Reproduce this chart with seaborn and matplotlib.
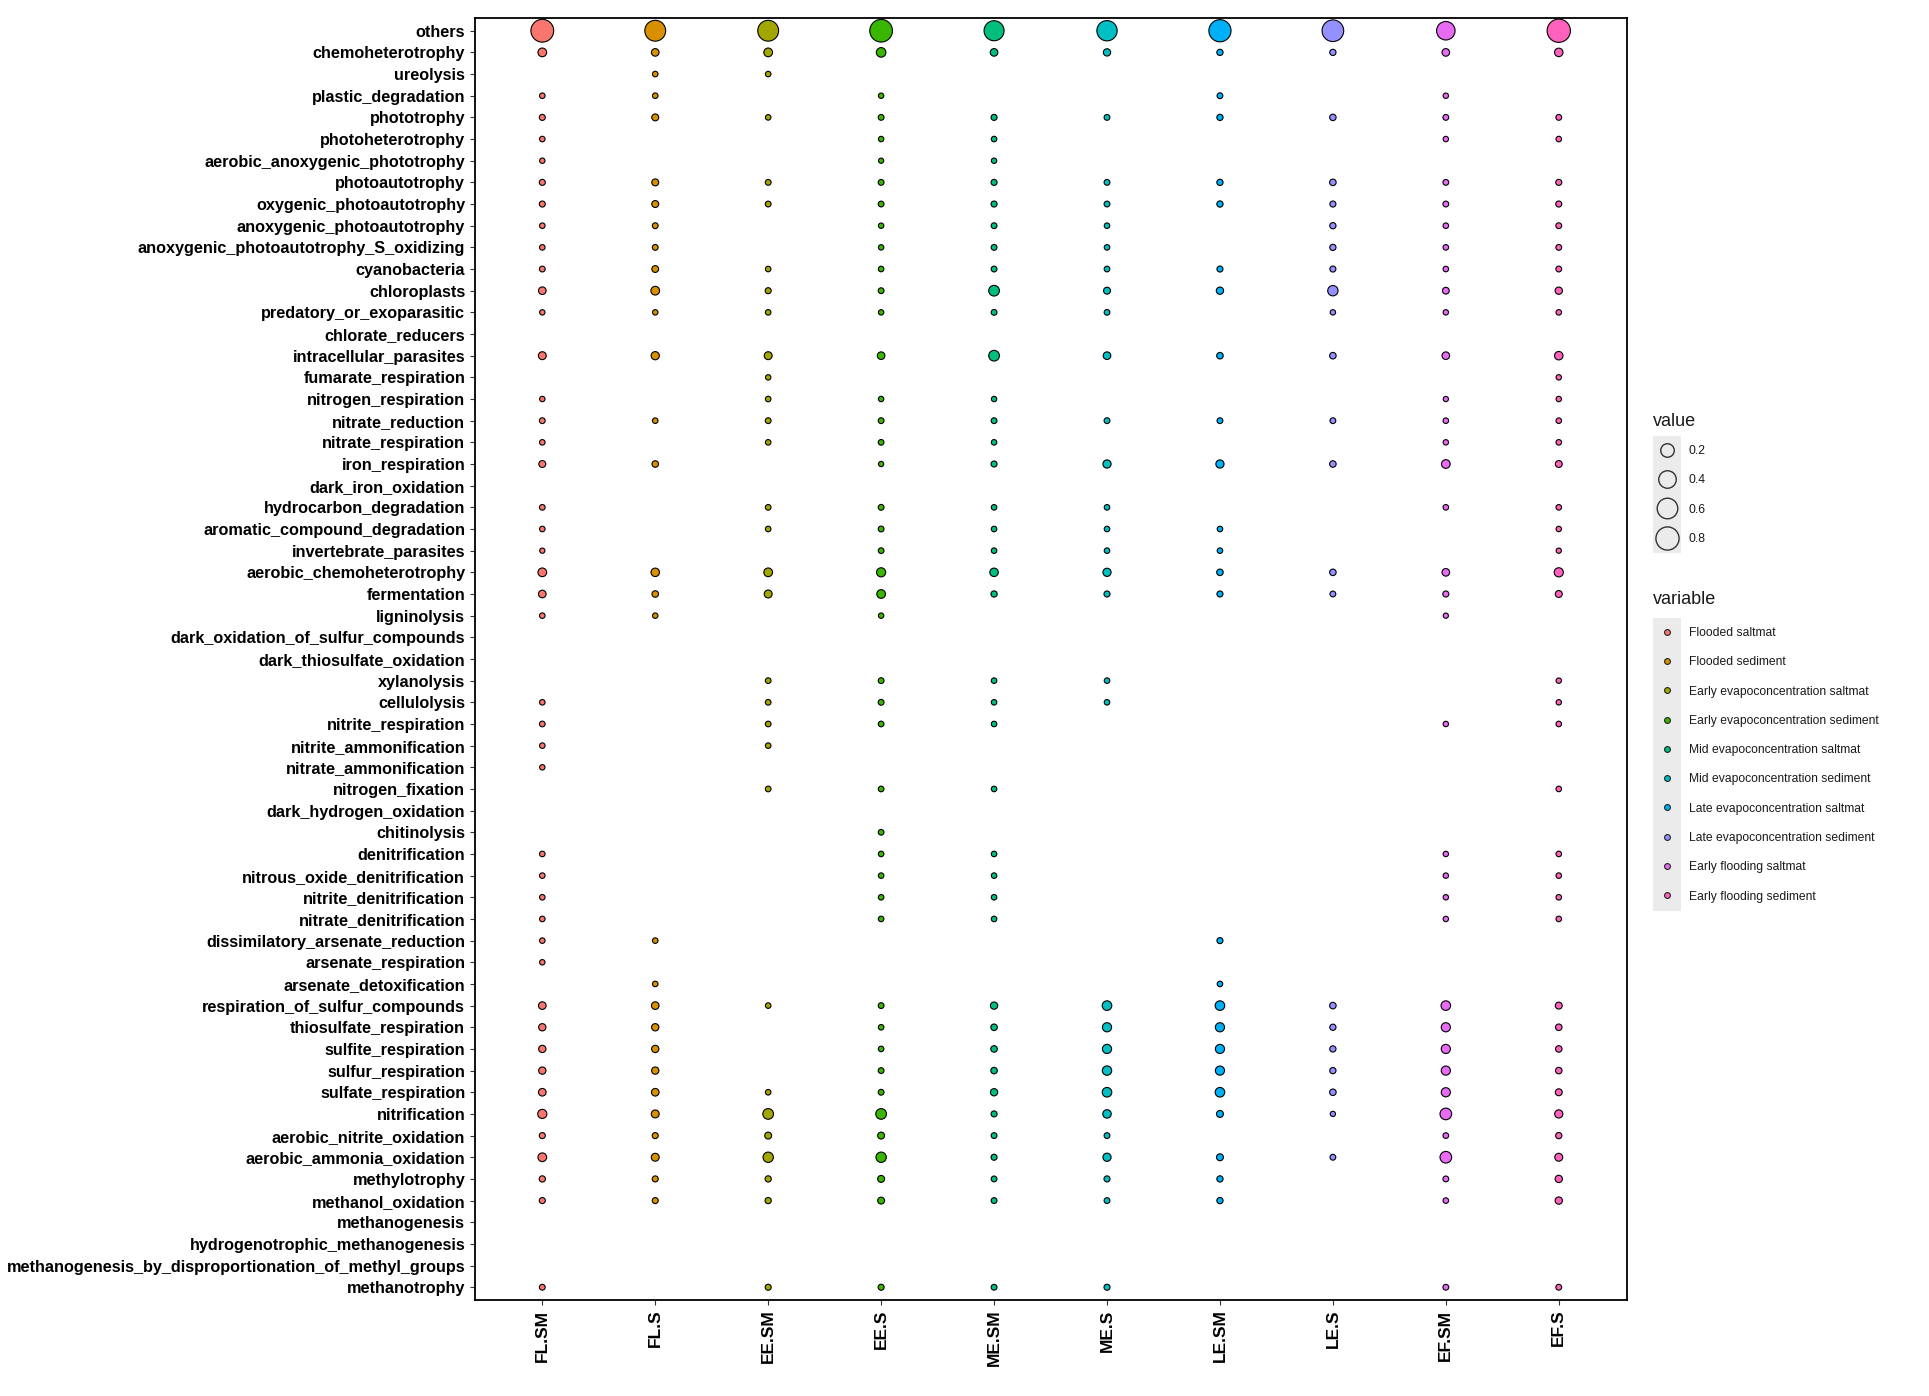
import numpy as np
import pandas as pd
import matplotlib.pyplot as plt
import matplotlib.colors as mcolors
from matplotlib.lines import Line2D
from matplotlib.patches import Rectangle
import seaborn as sns

N = np.nan

# FAPROTAX functions, top to bottom
functions = [
    "others", "chemoheterotrophy", "ureolysis", "plastic_degradation", "phototrophy",
    "photoheterotrophy", "aerobic_anoxygenic_phototrophy", "photoautotrophy",
    "oxygenic_photoautotrophy", "anoxygenic_photoautotrophy",
    "anoxygenic_photoautotrophy_S_oxidizing", "cyanobacteria", "chloroplasts",
    "predatory_or_exoparasitic", "chlorate_reducers", "intracellular_parasites",
    "fumarate_respiration", "nitrogen_respiration", "nitrate_reduction", "nitrate_respiration",
    "iron_respiration", "dark_iron_oxidation", "hydrocarbon_degradation",
    "aromatic_compound_degradation", "invertebrate_parasites", "aerobic_chemoheterotrophy",
    "fermentation", "ligninolysis", "dark_oxidation_of_sulfur_compounds",
    "dark_thiosulfate_oxidation",
    "xylanolysis", "cellulolysis", "nitrite_respiration", "nitrite_ammonification",
    "nitrate_ammonification", "nitrogen_fixation", "dark_hydrogen_oxidation", "chitinolysis",
    "denitrification", "nitrous_oxide_denitrification",
    "nitrite_denitrification", "nitrate_denitrification", "dissimilatory_arsenate_reduction",
    "arsenate_respiration", "arsenate_detoxification", "respiration_of_sulfur_compounds",
    "thiosulfate_respiration", "sulfite_respiration", "sulfur_respiration", "sulfate_respiration",
    "nitrification", "aerobic_nitrite_oxidation", "aerobic_ammonia_oxidation", "methylotrophy",
    "methanol_oxidation", "methanogenesis", "hydrogenotrophic_methanogenesis",
    "methanogenesis_by_disproportionation_of_methyl_groups", "methanotrophy",
]

sample_codes = ["FL.SM", "FL.S", "EE.SM", "EE.S", "ME.SM", "ME.S", "LE.SM", "LE.S", "EF.SM", "EF.S"]
sample_names = [
    "Flooded saltmat", "Flooded sediment",
    "Early evapoconcentration saltmat", "Early evapoconcentration sediment",
    "Mid evapoconcentration saltmat", "Mid evapoconcentration sediment",
    "Late evapoconcentration saltmat", "Late evapoconcentration sediment",
    "Early flooding saltmat", "Early flooding sediment",
]

# relative abundance per sample (one value per function, NaN = no point)
fl_sm = [.77, .05, N, .006, .01, .006, .005, .01, .01, .006,
         .006, .008, .03, .005, N, .035, N, .005, .008, .006,
         .02, N, .007, .006, .004, .05, .03, .006, N, N,
         N, .006, .007, .006, .005, N, N, N, .006, .006,
         .006, .006, .006, .005, N, .03, .025, .025, .025, .03,
         .06, .01, .05, .012, .01, N, N, N, .008]
fl_s = [.62, .03, .006, .006, .02, N, N, .02, .02, .008,
        .008, .018, .05, .005, N, .04, N, N, .006, N,
        .015, N, N, N, N, .045, .015, .005, N, N,
        N, N, N, N, N, N, N, N, N, N,
        N, N, .006, N, .006, .03, .025, .025, .025, .03,
        .035, .01, .035, .01, .01, N, N, N, N]
ee_sm = [.62, .05, .006, N, .006, N, N, .008, .008, N,
         N, .006, .01, .006, N, .035, .005, .006, .008, .006,
         N, N, .007, .006, N, .05, .035, N, N, N,
         .007, .007, .007, .006, N, .007, N, N, N, N,
         N, N, N, N, N, .006, N, N, N, .006,
         .1, .02, .09, .012, .012, N, N, N, .01]
ee_s = [.76, .07, N, .005, .008, .005, .004, .008, .008, .005,
        .005, .006, .008, .005, N, .03, N, .005, .008, .007,
        .004, N, .008, .008, .007, .06, .05, .005, N, N,
        .008, .008, .007, N, N, .007, N, .007, .006, .006,
        .006, .006, N, N, N, .008, .006, .006, .008, .008,
        .1, .02, .09, .02, .02, N, N, N, .01]
me_sm = [.56, .03, N, N, .01, .006, .005, .01, .01, .008,
         .008, .008, .1, .008, N, .1, N, .005, .008, .006,
         .01, N, .006, .006, .006, .045, .012, N, N, N,
         .006, .006, .006, N, N, .006, N, N, .006, .006,
         .006, .006, N, N, N, .025, .015, .015, .015, .025,
         .01, .008, .01, .008, .008, N, N, N, .008]
me_s = [.58, .025, N, N, .008, N, N, .008, .008, .006,
        .006, .007, .02, .007, N, .03, N, N, .008, N,
        .04, N, .006, .006, .006, .04, .01, N, N, N,
        .006, .006, N, N, N, N, N, N, N, N,
        N, N, N, N, N, .07, .06, .06, .065, .07,
        .045, .008, .04, .01, .008, N, N, N, .01]
le_sm = [.72, .012, N, .008, .012, N, N, .012, .012, N,
         N, .01, .025, N, N, .015, N, N, .008, N,
         .04, N, N, .006, .006, .015, .01, N, N, N,
         N, N, N, N, N, N, N, N, N, N,
         N, N, .01, N, .006, .07, .06, .06, .06, .07,
         .02, N, .02, .012, .012, N, N, N, N]
le_s = [.68, .012, N, N, .014, N, N, .015, .01, .012,
        .012, .01, .09, .005, N, .015, N, N, .008, N,
        .015, N, N, N, N, .015, .008, N, N, N,
        N, N, N, N, N, N, N, N, N, N,
        N, N, N, N, N, .015, .012, .012, .012, .015,
        .004, N, .008, N, N, N, N, N, N]
ef_sm = [.46, .03, N, .005, .008, .005, N, .008, .008, .006,
         .006, .006, .018, .005, N, .03, N, .004, .006, .005,
         .05, N, .006, N, N, .03, .01, .004, N, N,
         N, N, .005, N, N, N, N, N, .005, .005,
         .005, .005, N, N, N, .07, .06, .06, .06, .06,
         .13, .007, .13, .008, .006, N, N, N, .008]
ef_s = [.81, .045, N, N, .008, .006, N, .01, .01, .008,
        .008, .008, .025, .006, N, .045, .005, .005, .006, .006,
        .02, N, .006, .005, .004, .06, .02, N, N, N,
        .005, .005, .006, N, N, .006, N, N, .006, .006,
        .006, .006, N, N, N, .02, .015, .015, .015, .02,
        .04, .012, .035, .025, .025, N, N, N, .008]

size_breaks = [0.2, 0.4, 0.6, 0.8]
hue_colors = ["#F8766D", "#D89000", "#A3A500", "#39B600", "#00BF7D",
              "#00BFC4", "#00B0F6", "#9590FF", "#E76BF3", "#FF62BC"]

columns = [fl_sm, fl_s, ee_sm, ee_s, me_sm, me_s, le_sm, le_s, ef_sm, ef_s]
frames = []
for code, name, vals in zip(sample_codes, sample_names, columns):
    frames.append(pd.DataFrame({"function": functions, "sample": code,
                                "variable": name, "value": vals}))
df = pd.concat(frames, ignore_index=True).dropna(subset=["value"])
df["x"] = pd.Categorical(df["sample"], categories=sample_codes).codes
df["y"] = pd.Categorical(df["function"], categories=functions).codes

sns.set_style("ticks")
plt.rcParams["font.family"] = ["Liberation Sans", "DejaVu Sans"]

fig = plt.figure(figsize=(19.29, 13.96), dpi=100)
ax = fig.add_axes([0.2460, 0.0686, 0.5972, 0.9187])

# area scale like ggplot scale_size: diameter grows with sqrt(value)
vmax = df["value"].max()
size_norm = mcolors.FuncNorm(
    (lambda v: (1 + 5 * np.sqrt(v / vmax)) ** 2,
     lambda f: vmax * ((np.sqrt(f) - 1) / 5) ** 2),
    vmin=0, vmax=vmax)
smin, smax = 7.8, 7.8 * 36

sns.scatterplot(data=df, x="x", y="y", hue="variable", hue_order=sample_names,
                palette=hue_colors, size="value", sizes=(smin, smax),
                size_norm=size_norm, edgecolor="black", linewidth=0.8,
                legend=False, ax=ax)

ax.set_xlim(-0.6, len(sample_codes) - 0.4)
ax.set_ylim(len(functions) - 0.4, -0.6)
ax.set_xticks(range(len(sample_codes)))
ax.set_xticklabels(sample_codes, rotation=90, fontweight="bold", fontsize=12.5)
ax.set_yticks(range(len(functions)))
ax.set_yticklabels(functions, fontweight="bold", fontsize=11.7)
ax.tick_params(length=3.7, width=0.8, color="#333333", pad=3, labelcolor="black")
ax.set_xlabel("")
ax.set_ylabel("")
for sp in ax.spines.values():
    sp.set_visible(True)
    sp.set_color("black")
    sp.set_linewidth(1.3)

# legends
size_handles = [Line2D([], [], linestyle="", marker="o",
                       markersize=np.sqrt(smin + float(size_norm(b)) * (smax - smin)),
                       markerfacecolor="none", markeredgecolor="#333333",
                       markeredgewidth=1.0) for b in size_breaks]
hue_handles = [Line2D([], [], linestyle="", marker="o", markersize=4.2,
                      markerfacecolor=c, markeredgecolor="#222222",
                      markeredgewidth=0.8) for c in hue_colors]

W, H = 1929, 1396
leg_fs = 8.7
fs_px = leg_fs * fig.dpi / 72
spacing = 1.43
key_w = 28 / fs_px
leg_kw = dict(loc="upper left", bbox_transform=fig.transFigure, frameon=False,
              borderpad=0, borderaxespad=0, handlelength=key_w, handletextpad=0.66,
              labelspacing=spacing, fontsize=leg_fs, labelcolor="#1a1a1a")
leg_size = fig.legend(handles=size_handles, labels=[f"{b:.1f}" for b in size_breaks],
                      bbox_to_anchor=(1653 / W, 1 - 445 / H), **leg_kw)
leg_hue = fig.legend(handles=hue_handles, labels=sample_names,
                     bbox_to_anchor=(1653 / W, 1 - 627 / H), **leg_kw)
fig.text(1653 / W, 1 - 421 / H, "value", fontsize=13, va="center", color="#1a1a1a")
fig.text(1653 / W, 1 - 600 / H, "variable", fontsize=13, va="center", color="#1a1a1a")

# grey key column behind legend symbols
fig.canvas.draw()
sep = spacing * fs_px / H
for leg in (leg_size, leg_hue):
    bb = leg.get_window_extent().transformed(fig.transFigure.inverted())
    fig.add_artist(Rectangle((bb.x0, bb.y0 - sep / 2), key_w * fs_px / W, bb.height + sep,
                             transform=fig.transFigure, facecolor="#EBEBEB",
                             edgecolor="none", zorder=0))

fig.savefig("out.png", dpi=100)
